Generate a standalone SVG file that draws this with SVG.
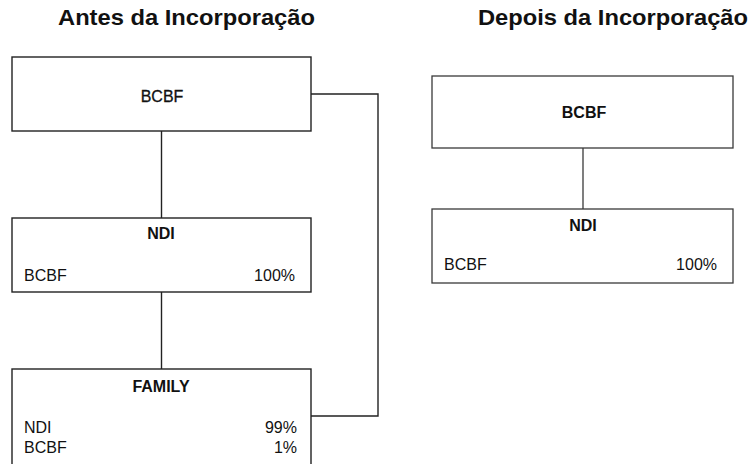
<svg xmlns="http://www.w3.org/2000/svg" width="749" height="464" viewBox="0 0 749 464">
<style>
.box{fill:#fff;stroke:#222;stroke-width:1.4}
.box2{fill:#fff;stroke:#3a3a3a;stroke-width:1.3}
.ln{fill:none;stroke:#222;stroke-width:1.4}
.ln2{fill:none;stroke:#3a3a3a;stroke-width:1.3}
.t{font-family:"Liberation Sans",Arial,sans-serif;fill:#111}
.h{font-size:21.5px;font-weight:bold}
.b{font-size:16px;font-weight:bold}
.r{font-size:16px}
</style>
<rect width="749" height="464" fill="#fff"/>
<text class="t h" x="58" y="25" textLength="257" lengthAdjust="spacingAndGlyphs">Antes da Incorporação</text>
<text class="t h" x="478" y="25" textLength="270" lengthAdjust="spacingAndGlyphs">Depois da Incorporação</text>
<g id="connectors">
<path class="ln" d="M161.5 131V218"/>
<path class="ln" d="M161.5 292V369"/>
<path class="ln" d="M311 94H378V416H311"/>
<path class="ln2" d="M583 148V209"/>
</g>
<g id="bcbf-before">
<rect class="box" x="12" y="57" width="299" height="74"/>
<text class="t r" x="162" y="102" text-anchor="middle" stroke="#111" stroke-width="0.3">BCBF</text>
</g>
<g id="ndi-before">
<rect class="box" x="12" y="218" width="299" height="74"/>
<text class="t b" x="161" y="239" text-anchor="middle">NDI</text>
<text class="t r" x="24" y="281">BCBF</text>
<text class="t r" x="295" y="281" text-anchor="end">100%</text>
</g>
<g id="family-before">
<rect class="box" x="12" y="369" width="299" height="110"/>
<text class="t b" x="161" y="392" text-anchor="middle">FAMILY</text>
<text class="t r" x="24" y="433">NDI</text>
<text class="t r" x="297" y="433" text-anchor="end">99%</text>
<text class="t r" x="24" y="453">BCBF</text>
<text class="t r" x="297" y="453" text-anchor="end">1%</text>
</g>
<g id="bcbf-after">
<rect class="box2" x="432" y="76" width="301" height="72"/>
<text class="t b" x="584" y="118" text-anchor="middle" fill="#333">BCBF</text>
</g>
<g id="ndi-after">
<rect class="box2" x="432" y="209" width="301" height="74"/>
<text class="t b" x="583" y="231" text-anchor="middle">NDI</text>
<text class="t r" x="444" y="270">BCBF</text>
<text class="t r" x="717" y="270" text-anchor="end">100%</text>
</g>
</svg>
